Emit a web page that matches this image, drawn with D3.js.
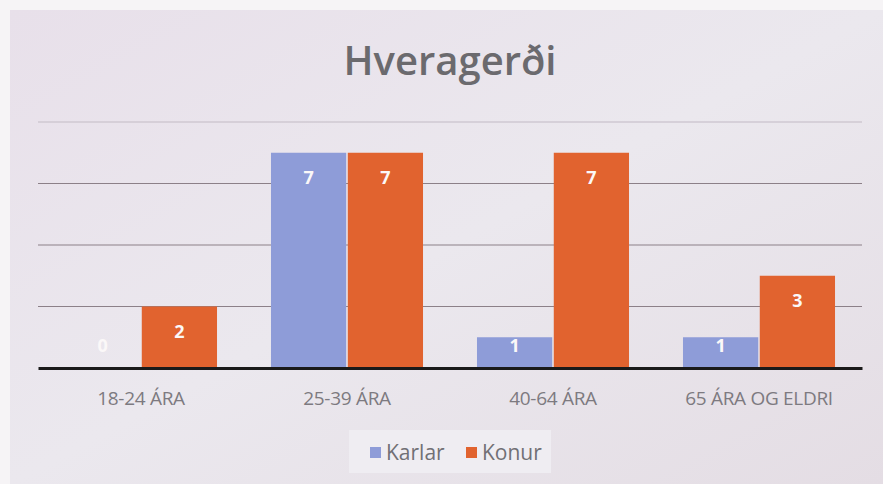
<!DOCTYPE html>
<html>
<head>
<meta charset="utf-8">
<title>Hveragerði</title>
<style>
  body { margin: 0; background: #f6f4f6; }
  svg { display: block; font-family: "Open Sans", "Noto Sans", sans-serif; }
</style>
</head>
<body>
<svg id="viz" width="883" height="484"></svg>
<script src="https://d3js.org/d3.v7.min.js"></script>
<script>
// data
var categories = ["18-24 ÁRA", "25-39 ÁRA", "40-64 ÁRA", "65 ÁRA OG ELDRI"];
var seriesNames = ["Karlar", "Konur"];
var karlar = [0, 7, 1, 1];
var konur  = [2, 7, 7, 3];
var gridTicks = [2, 4, 6, 8];

var colors = { Karlar: "#8e9cd8", Konur: "#e1632f" };

var svg = d3.select("#viz"),
    width = 883,
    height = 484;

// photographed slide background
var defs = svg.append("defs");
var grad = defs.append("linearGradient").attr("id", "bg")
    .attr("x1", "0").attr("y1", "0").attr("x2", "1").attr("y2", "1");
grad.append("stop").attr("offset", "0").attr("stop-color", "#e8e0ea");
grad.append("stop").attr("offset", "0.5").attr("stop-color", "#ebe8ee");
grad.append("stop").attr("offset", "1").attr("stop-color", "#e4dde4");

svg.append("rect").attr("x", 10).attr("y", 10)
    .attr("width", width - 10).attr("height", height - 10)
    .attr("fill", "url(#bg)");

var margin = { left: 38, right: 21, top: 122, bottom: 116 };
var plotBottom = height - margin.bottom;   // 368

var x = d3.scaleBand()
    .domain(categories)
    .range([margin.left, width - margin.right])
    .paddingInner(0.262)
    .paddingOuter(0.131);

var xs = d3.scaleBand()
    .domain(seriesNames)
    .range([0, x.bandwidth()])
    .paddingInner(0.02);

var y = d3.scaleLinear().domain([0, 8]).range([plotBottom, margin.top]);

// gridlines
svg.append("g")
    .selectAll("line")
    .data(gridTicks)
    .join("line")
    .attr("x1", margin.left).attr("x2", width - margin.right)
    .attr("y1", function(d) { return y(d); })
    .attr("y2", function(d) { return y(d); })
    .attr("stroke", function(d) { return d == 8 ? "#cfc9d2" : "#8c8088"; })
    .attr("stroke-width", function(d) { return d == 8 ? 1.5 : 1.2; });

var rows = categories.map(function(c, i) {
    return { cat: c, values: [
        { name: "Karlar", value: karlar[i] },
        { name: "Konur", value: konur[i] }
    ] };
});

var group = svg.append("g").selectAll("g")
    .data(rows)
    .join("g")
    .attr("transform", function(d) { return "translate(" + x(d.cat) + ",0)"; });

group.selectAll("rect")
    .data(function(d) { return d.values; })
    .join("rect")
    .attr("x", function(d) { return xs(d.name); })
    .attr("y", function(d) { return y(d.value); })
    .attr("width", xs.bandwidth())
    .attr("height", function(d) { return plotBottom - y(d.value); })
    .attr("fill", function(d) { return colors[d.name]; });

group.selectAll("text")
    .data(function(d) { return d.values; })
    .join("text")
    .attr("x", function(d) { return xs(d.name) + xs.bandwidth() / 2; })
    .attr("y", function(d) { return Math.min(y(d.value) + 31, plotBottom - 16); })
    .attr("text-anchor", "middle")
    .attr("fill", "#fbf8f8")
    .attr("font-size", 18)
    .attr("font-weight", 700)
    .text(function(d) { return d.value; });

// x axis
var xAxis = svg.append("g")
    .attr("transform", "translate(0," + plotBottom + ")")
    .call(d3.axisBottom(x).tickSize(0).tickPadding(24));
xAxis.select(".domain").attr("stroke", "#1a1a1a").attr("stroke-width", 3);
xAxis.selectAll("text")
    .attr("fill", "#7d7a80")
    .attr("font-size", 19)
    .style("font-family", "'Open Sans', 'Noto Sans', sans-serif")
    .style("letter-spacing", "-0.3px");

// title
svg.append("text")
    .attr("x", 450).attr("y", 75)
    .attr("text-anchor", "middle")
    .attr("fill", "#6b6a6e")
    .attr("font-size", 40)
    .attr("font-weight", 600)
    .text("Hveragerði");

// legend
var legend = svg.append("g");
legend.append("rect")
    .attr("x", 349).attr("y", 430).attr("width", 202).attr("height", 43)
    .attr("fill", "#efedf2");
var items = legend.selectAll("g")
    .data(seriesNames)
    .join("g")
    .attr("transform", function(d, i) { return "translate(" + (370 + i * 96) + ",452)"; });
items.append("rect")
    .attr("x", 0).attr("y", -5).attr("width", 11).attr("height", 11)
    .attr("fill", function(d) { return colors[d]; });
items.append("text")
    .attr("x", 16).attr("y", 8)
    .attr("fill", "#717075")
    .attr("font-size", 21)
    .text(function(d) { return d; });
</script>
</body>
</html>
